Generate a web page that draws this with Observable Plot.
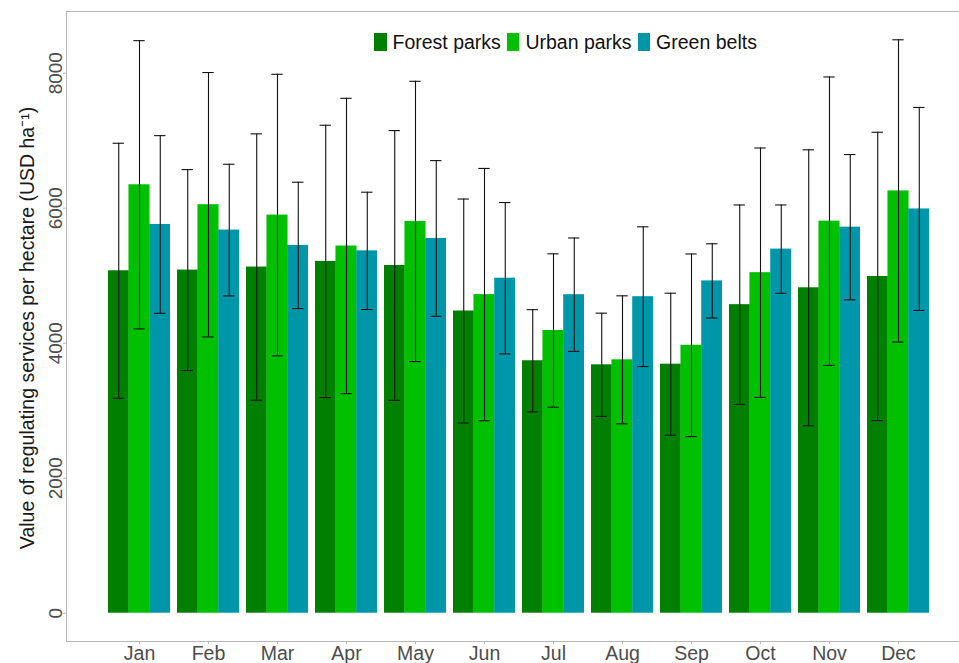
<!DOCTYPE html>
<html>
<head>
<meta charset="utf-8">
<script src="https://cdn.jsdelivr.net/npm/d3@7"></script>
<script src="https://cdn.jsdelivr.net/npm/@observablehq/plot@0.6"></script>
<style>
  body { margin: 0; background: #fff; }
  #chart { position: relative; width: 959px; height: 663px; font-family: "Liberation Sans", Arial, sans-serif; }
  #legend { position: absolute; left: 374px; top: 33px; display: flex; align-items: center; font-size: 19.5px; color: #111; line-height: 18px; }
  #legend .item { display: flex; align-items: center; margin-right: 6px; }
  #legend .swatch { width: 12.5px; height: 18px; margin-right: 6px; }
</style>
</head>
<body>
<div id="chart"></div>
<script>
// Monthly value of regulating services (USD per hectare), mean and standard deviation
const months = ["Jan", "Feb", "Mar", "Apr", "May", "Jun", "Jul", "Aug", "Sep", "Oct", "Nov", "Dec"];
const series = ["Forest parks", "Urban parks", "Green belts"];
const colors = ["#007f00", "#00c000", "#0096a9"];

const forestMean = [5073, 5083, 5128, 5212, 5152, 4477, 3740, 3680, 3689, 4571, 4821, 4989];
const forestSd   = [1889, 1489, 1973, 2017, 1998, 1659,  757,  765, 1052, 1477, 2044, 2136];
const urbanMean  = [6347, 6052, 5898, 5440, 5804, 4720, 4188, 3754, 3969, 5045, 5808, 6256];
const urbanSd    = [2135, 1958, 2086, 2188, 2076, 1869, 1136,  948, 1353, 1847, 2136, 2239];
const beltMean   = [5759, 5676, 5449, 5368, 5552, 4963, 4719, 4689, 4923, 5394, 5719, 5989];
const beltSd     = [1316,  975,  936,  869, 1153, 1121,  840, 1035,  550,  654, 1076, 1504];

const yTicks = [0, 2000, 4000, 6000, 8000];
const yTitle = "Value of regulating services per hectare (USD ha\u207B\u00B9)";

const means = [forestMean, urbanMean, beltMean];
const sds = [forestSd, urbanSd, beltSd];
const rows = months.flatMap((m, i) =>
  series.map((s, j) => ({month: m, series: s, value: means[j][i], sd: sds[j][i]}))
);

// Layout
const W = 959, H = 663;
const margin = {left: 66, right: -11.6, top: 11, bottom: 22};
const xOpts = {type: "band", domain: months, paddingInner: 0.1, paddingOuter: 0.586,
               range: [margin.left, W - margin.right]};
const bw = Plot.scale({x: xOpts}).bandwidth;   // width of one month group
const barW = bw / series.length;
const capW = barW * 0.56;
const seam = 0.3;                               // slight overlap so adjacent bars meet cleanly
const axisGrey = "#b8b8b8";
const tickText = "#4d4d4d";

const groupMarks = series.flatMap((s, j) => {
  const data = rows.filter(r => r.series === s);
  const dx = (j - 1) * barW;
  return [
    Plot.barY(data, {x: "month", y: "value", fill: "series",
                     insetLeft: barW - (j > 0 ? seam : 0), insetRight: barW - (j < 2 ? seam : 0), dx})
  ];
});

const errorMarks = series.flatMap((s, j) => {
  const data = rows.filter(r => r.series === s);
  const dx = (j - 1) * barW;
  return [
    Plot.ruleX(data, {x: "month", y1: d => d.value - d.sd, y2: d => d.value + d.sd, dx, stroke: "#111", strokeWidth: 1.1}),
    Plot.tickY(data, {x: "month", y: d => d.value - d.sd, dx, inset: (bw - capW) / 2, stroke: "#111", strokeWidth: 1.1}),
    Plot.tickY(data, {x: "month", y: d => d.value + d.sd, dx, inset: (bw - capW) / 2, stroke: "#111", strokeWidth: 1.1})
  ];
});

const chart = Plot.plot({
  width: W,
  height: H,
  marginLeft: margin.left,
  marginRight: margin.right,
  marginTop: margin.top,
  marginBottom: margin.bottom,
  style: {fontFamily: "'Liberation Sans', Arial, sans-serif", overflow: "visible"},
  x: xOpts,
  y: {domain: [-419, 8914]},
  color: {domain: series, range: colors},
  marks: [
    ...groupMarks,
    ...errorMarks,
    Plot.frame({stroke: axisGrey, strokeWidth: 1}),
    Plot.axisX({tickSize: 3, tickPadding: 2, fontSize: 19.5, label: null, color: tickText, stroke: axisGrey}),
    Plot.axisY({ticks: yTicks, tickFormat: d => String(d), tickSize: 3, tickPadding: 2, tickRotate: -90,
                fontSize: 19, label: null, color: tickText, stroke: axisGrey}),
    Plot.text([yTitle], {frameAnchor: "left", rotate: -90, textAnchor: "middle", lineAnchor: "bottom",
                         dx: -33, dy: 1.5, fontSize: 19.5, fill: "#1a1a1a"})
  ]
});

const root = document.getElementById("chart");
root.appendChild(chart);

// Legend overlaid inside the panel
const legend = d3.select(root).append("div").attr("id", "legend");
const items = legend.selectAll(".item").data(series).join("div").attr("class", "item");
items.append("span").attr("class", "swatch").style("background", (d, i) => colors[i]);
items.append("span").text(d => d);
</script>
</body>
</html>
